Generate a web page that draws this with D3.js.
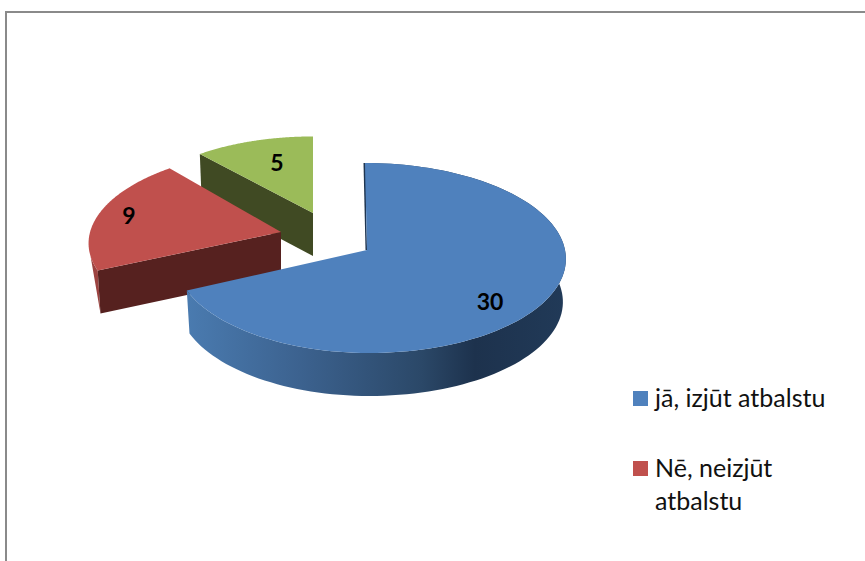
<!DOCTYPE html>
<html><head><meta charset="utf-8">
<script src="https://cdn.jsdelivr.net/npm/d3@7"></script>
<style>html,body{margin:0;padding:0;background:#fff;overflow:hidden}svg{display:block}</style>
</head><body><svg id="c" width="865" height="561"></svg>
<script>
const values = [30, 9, 5];
const labels = ["30", "9", "5"];
const topColors = ["#4f81bd", "#c0504d", "#9bbb59"];
const cutColors = ["#1f3550", "#56211f", "#404a23"];
const legendItems = [["jā, izjūt atbalstu"], ["Nē, neizjūt", "atbalstu"]];
const legendColors = ["#4f81bd", "#c0504d"];

// layout of the exploded slices
const apexX = [367, 281, 313], apexY = [250, 232, 213], sliceScale = [1, 0.95, 0.88];
const leftStretch = [0.97, 1.015, 1.055], skew = [2, -8, 0];
const labelDX = [123, -152, -36], labelDY = [52, -16, -50];
const A = 198, K = 94.3, C = -0.0842, depth = 43, bottomShrink = 0.985;

const svg = d3.select("#c");
svg.append("rect").attr("x",6).attr("y",12).attr("width",900).attr("height",600)
  .attr("fill","#fff").attr("stroke","#8a8a8a").attr("stroke-width",2);

const defs = svg.append("defs");
const g0 = defs.append("linearGradient").attr("id","blueWall").attr("gradientUnits","userSpaceOnUse")
  .attr("x1",186).attr("x2",566).attr("y1",0).attr("y2",0);
[[0,"#4a7bb0"],[0.3,"#3c628f"],[0.62,"#2b4868"],[0.76,"#1d324d"],[1,"#213a58"]]
  .forEach(([o,c])=>g0.append("stop").attr("offset",o).attr("stop-color",c));

const pie = d3.pie().sort(null).value(d=>d);
const arcs = pie(values);
const line = d3.line();

function pt(i, a) {
  const u = Math.sin(a), v = -Math.cos(a), w = 1 + C * v;
  const sx = u < 0 ? leftStretch[i] : 1;
  return [apexX[i] + sx * sliceScale[i] * A * u / w + skew[i] * v,
          apexY[i] + sliceScale[i] * K * v / w];
}
const low = (i, p) => [apexX[i] + (p[0] - apexX[i]) * bottomShrink, p[1] + depth];

const layer = svg.append("g");

[2, 1, 0].forEach(i => {
  const d = arcs[i];
  const rim = d3.range(0, 121).map(k => pt(i, d.startAngle + (d.endAngle - d.startAngle) * k / 120));
  const apex = [apexX[i], apexY[i]];
  const apexLow = low(i, apex);
  if (i === 0) {
    layer.append("path").attr("d", line(rim.concat(rim.map(p => low(i, p)).reverse())) + "Z")
      .attr("fill", "url(#blueWall)");
    const first = rim[0];
    layer.append("path").attr("d", line([first, [first[0]-1.5, first[1]], [apex[0]-1.5, apex[1]], apex]) + "Z")
      .attr("fill", cutColors[0]);
  } else {
    if (i === 1) {
      // only a narrow strip of the red rim shows, tapering to the lower front corner
      layer.append("path").attr("d", line(rim.slice(0, 16).concat([low(i, rim[0])])) + "Z").attr("fill", "#9c4340");
    }
    layer.append("path").attr("d", line([apex, rim[0], low(i, rim[0]), apexLow]) + "Z").attr("fill", cutColors[i]);
  }
  layer.append("path").attr("d", line([apex].concat(rim)) + "Z").attr("fill", topColors[i]);
  layer.append("text").attr("x", apexX[i] + labelDX[i]).attr("y", apexY[i] + labelDY[i])
    .attr("text-anchor","middle").attr("dy","0.36em")
    .attr("font-family","Lato, 'Open Sans', sans-serif").attr("font-weight",700).attr("font-size",23)
    .attr("fill","#000").text(labels[i]);
});

const legendTop = [391, 461];
legendItems.forEach((lines, i) => {
  svg.append("rect").attr("x",633).attr("y",legendTop[i]).attr("width",15).attr("height",15).attr("fill",legendColors[i]);
  lines.forEach((t, j) => svg.append("text").attr("x",655).attr("y",legendTop[i] + 16 + j * 33)
    .attr("font-family","Lato, 'Open Sans', sans-serif").attr("font-size",25).attr("fill","#111").text(t));
});
</script></body></html>
